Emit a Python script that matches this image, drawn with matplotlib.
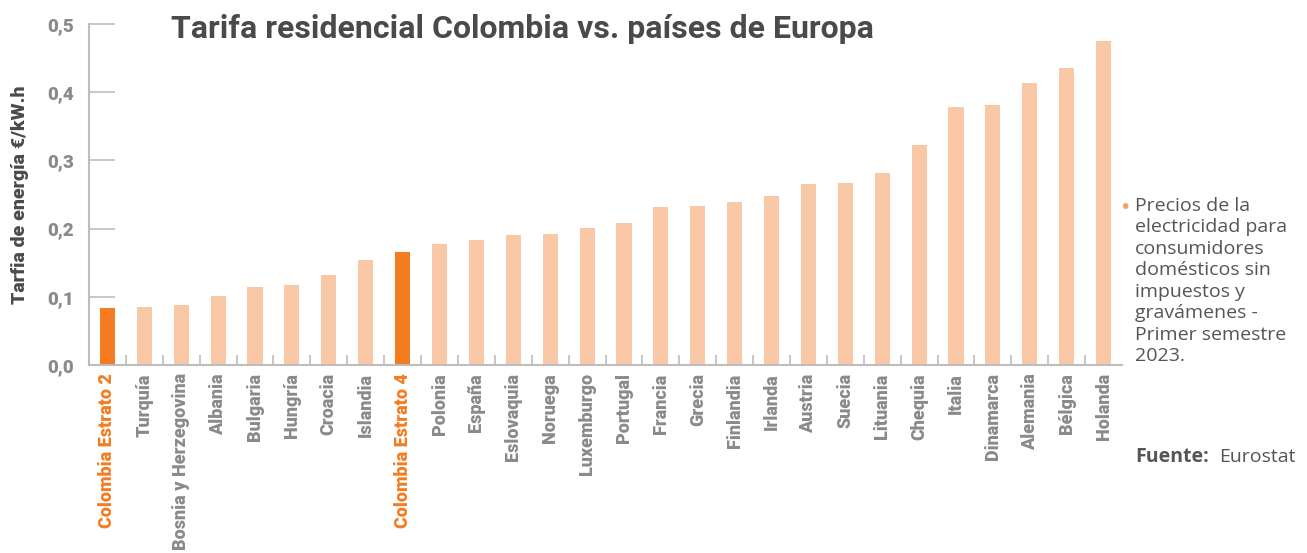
import matplotlib
matplotlib.use("Agg")
import matplotlib.pyplot as plt
import numpy as np
from matplotlib.ticker import FixedLocator, FuncFormatter

paises = ["Colombia Estrato 2", "Turquía", "Bosnia y Herzegovina", "Albania", "Bulgaria",
          "Hungría", "Croacia", "Islandia", "Colombia Estrato 4", "Polonia", "España",
          "Eslovaquia", "Noruega", "Luxemburgo", "Portugal", "Francia", "Grecia",
          "Finlandia", "Irlanda", "Austria", "Suecia", "Lituania", "Chequia", "Italia",
          "Dinamarca", "Alemania", "Bélgica", "Holanda"]
tarifa = [0.084, 0.085, 0.088, 0.101, 0.114, 0.117, 0.132, 0.154, 0.166, 0.177, 0.183,
          0.191, 0.192, 0.201, 0.208, 0.232, 0.233, 0.239, 0.248, 0.265, 0.267, 0.282,
          0.323, 0.378, 0.381, 0.413, 0.435, 0.475]
colombia = ["Colombia Estrato 2", "Colombia Estrato 4"]

naranja = "#f47b20"
claro = "#f9c9a7"
gris = "#8a8a8c"
oscuro = "#4a4a4d"
texto = "#555557"
roboto = ["Roboto", "DejaVu Sans"]
sans = ["Open Sans", "DejaVu Sans"]

fig = plt.figure(figsize=(13.07, 5.53), dpi=100, facecolor="white")
ax = fig.add_axes([0.0681, 0.340, 0.7904, 0.6166])

x = np.arange(len(paises))
colores = [naranja if p in colombia else claro for p in paises]
ax.bar(x, tarifa, width=0.41, color=colores, zorder=2)

ax.set_xlim(-0.5, len(paises) - 0.5)
ax.set_ylim(0, 0.5)
for s in ["top", "right"]:
    ax.spines[s].set_visible(False)
for s in ["left", "bottom"]:
    ax.spines[s].set_color("#bdbdbd")
    ax.spines[s].set_linewidth(1.5)

ax.set_yticks([0, 0.1, 0.2, 0.3, 0.4, 0.5])
ax.yaxis.set_major_formatter(FuncFormatter(lambda v, p: f"{v:.1f}".replace(".", ",")))
ax.tick_params(axis="y", direction="in", length=19, width=1.2, color="#bdbdbd",
               labelsize=13.5, labelcolor=gris, pad=11)
for t in ax.get_yticklabels():
    t.set_fontfamily(roboto)
    t.set_fontweight(900)

ax.set_xticks(x)
ax.set_xticklabels(paises, rotation=90, fontsize=13, fontweight=900, family=roboto)
ax.xaxis.set_minor_locator(FixedLocator(x[1:] - 0.5))
ax.tick_params(axis="x", which="major", length=0, pad=6)
ax.tick_params(axis="x", which="minor", direction="in", length=7, width=1.2, color="#bdbdbd")
for t in ax.get_xticklabels():
    t.set_color(naranja if t.get_text() in colombia else gris)

ax.set_ylabel("Tarfia de energía €/kW.h", fontsize=14, fontweight=900, color=oscuro,
              family=roboto, labelpad=13)

fig.text(0.131, 0.948, "Tarifa residencial Colombia vs. países de Europa", fontsize=23,
         fontweight="bold", color=oscuro, family=roboto, va="center")

fig.text(0.8565, 0.624, "•", fontsize=14, color="#f5a35f", va="center")
fig.text(0.8685, 0.644, "Precios de la\nelectricidad para\nconsumidores\ndomésticos sin\n"
         "impuestos y\ngravámenes -\nPrimer semestre\n2023.", fontsize=14, color=texto,
         va="top", linespacing=1.25, family=sans)
fig.text(0.8685, 0.174, "Fuente:", fontsize=14, color=texto, fontweight="bold",
         va="center", family=sans)
fig.text(0.9325, 0.174, "Eurostat", fontsize=14, color=texto, va="center", family=sans)

fig.savefig("out.png", dpi=100, facecolor=fig.get_facecolor())
